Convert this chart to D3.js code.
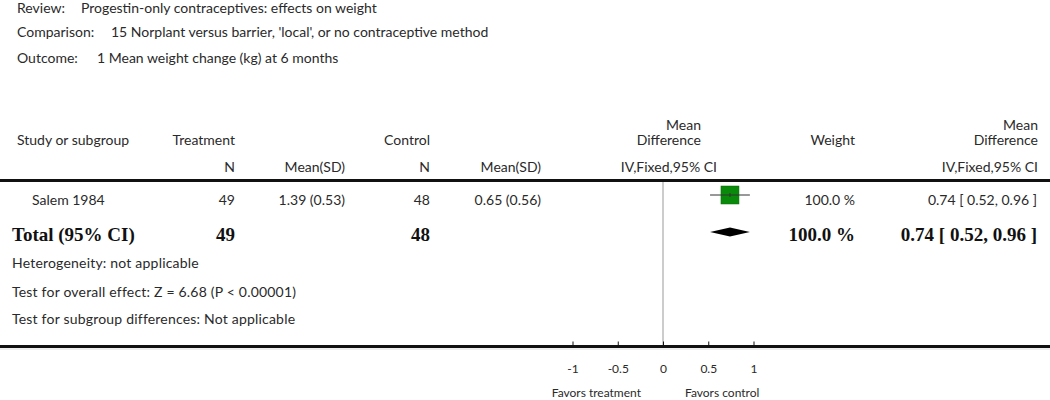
<!DOCTYPE html>
<html>
<head>
<meta charset="utf-8">
<script src="https://cdn.jsdelivr.net/npm/d3@7"></script>
<style>
  body { margin: 0; background: #fff; }
  svg text { font-family: Lato, "Open Sans", sans-serif; fill: #2a2a2a; }
  .bold text, text.bold { font-family: "Liberation Serif", "Times New Roman", serif; font-weight: bold; fill: #111; }
</style>
</head>
<body>
<div id="forest"></div>
<script>
// header text
var titleLabels = ["Review:", "Comparison:", "Outcome:"];
var titleValues = ["Progestin-only contraceptives: effects on weight",
                   "15 Norplant versus barrier, 'local', or no contraceptive method",
                   "1 Mean weight change (kg) at 6 months"];

// study rows
var studies = ["Salem 1984"];
var treatN = [49];
var treatMeanSD = ["1.39 (0.53)"];
var controlN = [48];
var controlMeanSD = ["0.65 (0.56)"];
var meanDiff = [0.74];
var ciLow = [0.52];
var ciHigh = [0.96];
var weights = [100.0];

// pooled
var totalTreatN = 49;
var totalControlN = 48;
var totalDiff = 0.74;
var totalLow = 0.52;
var totalHigh = 0.96;
var totalWeight = 100.0;

var footnotes = ["Heterogeneity: not applicable",
                 "Test for overall effect: Z = 6.68 (P < 0.00001)",
                 "Test for subgroup differences: Not applicable"];

var axisTicks = [-1, -0.5, 0, 0.5, 1];
var axisLabels = ["-1", "-0.5", "0", "0.5", "1"];
var favorLabels = ["Favors treatment", "Favors control"];

var width = 1050, height = 400;

var svg = d3.select("#forest").append("svg")
    .attr("width", width)
    .attr("height", height);

var x = d3.scaleLinear().domain([-1, 1]).range([572.5, 753.5]);

// title block
var titleY = [13, 37, 63];
var titleX = [81, 111, 97];
titleLabels.forEach(function(t, i) {
  svg.append("text").attr("x", 17).attr("y", titleY[i]).attr("font-size", 14).text(t);
  svg.append("text").attr("x", titleX[i]).attr("y", titleY[i]).attr("font-size", 14).text(titleValues[i]);
});

// column headers
function txt(xp, yp, s, anchor, size) {
  return svg.append("text")
    .attr("x", xp).attr("y", yp)
    .attr("text-anchor", anchor || "start")
    .attr("font-size", size || 14)
    .text(s);
}
txt(17, 145, "Study or subgroup");
txt(235, 145, "Treatment", "end");
txt(235, 172, "N", "end");
txt(345, 172, "Mean(SD)", "end");
txt(430, 145, "Control", "end");
txt(430, 172, "N", "end");
txt(541, 172, "Mean(SD)", "end");
txt(701, 130, "Mean", "end");
txt(701, 145, "Difference", "end");
txt(717, 172, "IV,Fixed,95% CI", "end");
txt(855, 145, "Weight", "end");
txt(1038, 130, "Mean", "end");
txt(1038, 145, "Difference", "end");
txt(1038, 172, "IV,Fixed,95% CI", "end");

// rules
svg.append("line").attr("x1", 0).attr("x2", width).attr("y1", 180.5).attr("y2", 180.5)
  .attr("stroke", "#111").attr("stroke-width", 3);
svg.append("line").attr("x1", 0).attr("x2", width).attr("y1", 346.5).attr("y2", 346.5)
  .attr("stroke", "#111").attr("stroke-width", 3);
svg.append("line").attr("x1", 0).attr("x2", width).attr("y1", 349).attr("y2", 349)
  .attr("stroke", "#ddd").attr("stroke-width", 1);

// line of no effect
svg.append("line")
  .attr("x1", x(0)).attr("x2", x(0)).attr("y1", 182).attr("y2", 345)
  .attr("stroke", "#999").attr("stroke-width", 1);

// study rows
var rowY = 205, sqMid = 195;
var fmt = d3.format(".2f");
studies.forEach(function(s, i) {
  var y = rowY + i * 30, ym = sqMid + i * 30;
  txt(32, y, s);
  txt(235, y, treatN[i], "end");
  txt(345, y, treatMeanSD[i], "end");
  txt(430, y, controlN[i], "end");
  txt(541, y, controlMeanSD[i], "end");
  txt(855, y, weights[i].toFixed(1) + " %", "end");
  txt(1037, y, fmt(meanDiff[i]) + " [ " + fmt(ciLow[i]) + ", " + fmt(ciHigh[i]) + " ]", "end");

  var side = 18 * Math.sqrt(weights[i] / 100);
  svg.append("rect")
    .attr("x", x(meanDiff[i]) - side / 2).attr("y", ym - side / 2)
    .attr("width", side).attr("height", side)
    .attr("fill", "#0a8a0a").attr("stroke", "#0a6a0a").attr("stroke-width", 0.5);
  svg.append("line")
    .attr("x1", x(ciLow[i])).attr("x2", x(ciHigh[i])).attr("y1", ym).attr("y2", ym)
    .attr("stroke", "#333").attr("stroke-width", 1);
  svg.append("line")
    .attr("x1", x(meanDiff[i])).attr("x2", x(meanDiff[i])).attr("y1", ym - 2).attr("y2", ym + 2)
    .attr("stroke", "#333").attr("stroke-width", 1);
});

// total row
var totY = 241, diaY = 232;
var bold = svg.append("g").attr("class", "bold");
bold.append("text").attr("x", 12).attr("y", totY).attr("font-size", 19).text("Total (95% CI)");
bold.append("text").attr("x", 235).attr("y", totY).attr("font-size", 19).attr("text-anchor", "end").text(totalTreatN);
bold.append("text").attr("x", 430).attr("y", totY).attr("font-size", 19).attr("text-anchor", "end").text(totalControlN);
bold.append("text").attr("x", 855).attr("y", totY).attr("font-size", 19).attr("text-anchor", "end")
  .text(totalWeight.toFixed(1) + " %");
bold.append("text").attr("x", 1037).attr("y", totY).attr("font-size", 19).attr("text-anchor", "end")
  .text(fmt(totalDiff) + " [ " + fmt(totalLow) + ", " + fmt(totalHigh) + " ]");

svg.append("path")
  .attr("d", "M" + x(totalLow) + "," + diaY +
             "L" + x(totalDiff) + "," + (diaY - 4.5) +
             "L" + x(totalHigh) + "," + diaY +
             "L" + x(totalDiff) + "," + (diaY + 4.5) + "Z")
  .attr("fill", "#000");

// footnotes
var footY = [268, 297, 324];
footnotes.forEach(function(f, i) { txt(12, footY[i], f).attr("letter-spacing", 0.2); });

// axis
var axis = svg.append("g")
  .attr("transform", "translate(0,345.5)")
  .call(d3.axisBottom(x).tickValues(axisTicks)
    .tickFormat(function(d, i) { return axisLabels[i]; })
    .tickSize(-4).tickPadding(19));
axis.select(".domain").remove();
axis.selectAll(".tick line").attr("stroke", "#111");
axis.selectAll(".tick text").attr("font-size", 12).attr("font-family", "Lato, sans-serif").attr("fill", "#2a2a2a");

txt(x(0) - 22, 397, favorLabels[0], "end", 12);
txt(x(0) + 22, 397, favorLabels[1], "start", 12);
</script>
</body>
</html>
